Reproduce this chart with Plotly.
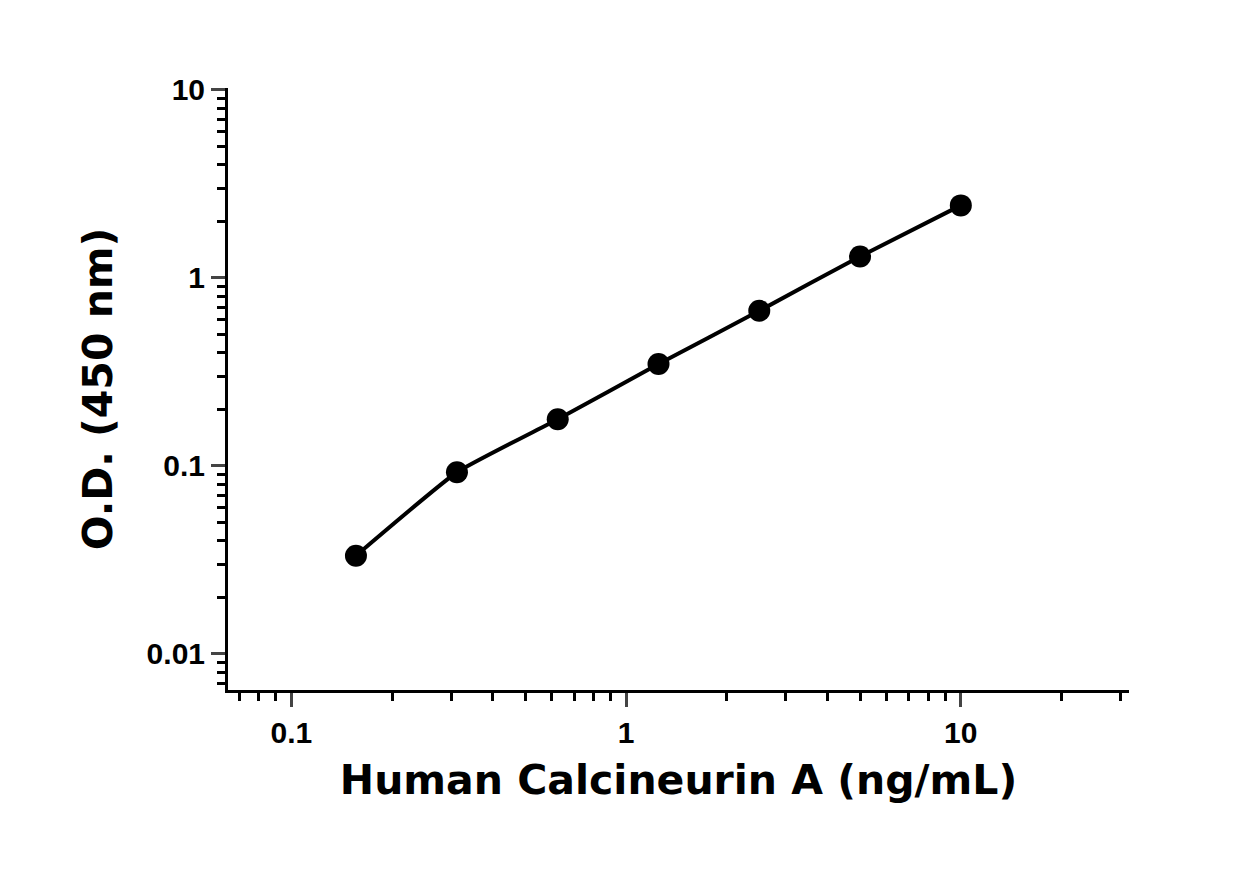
import numpy as np
import plotly.graph_objects as go

# standard curve data
conc = [0.156, 0.3125, 0.625, 1.25, 2.5, 5, 10]
od = [0.0333, 0.0925, 0.177, 0.348, 0.668, 1.30, 2.43]

x_ticks = [0.1, 1, 10]
x_labels = ['0.1', '1', '10']
y_ticks = [0.01, 0.1, 1, 10]
y_labels = ['0.01', '0.1', '1', '10']

x_minor = [m * 10.0 ** d for d in range(-2, 2) for m in range(2, 10)]
y_minor = [m * 10.0 ** d for d in range(-3, 1) for m in range(2, 10)]

fig = go.Figure()
fig.add_trace(go.Scatter(x=conc, y=od, mode='lines+markers',
                         line=dict(color='black', width=4, shape='spline', smoothing=0.4),
                         marker=dict(color='black', size=22), showlegend=False))

tick_font = dict(family='Liberation Sans Narrow, Liberation Sans, Arial', size=30, color='black', weight='bold')
title_font = dict(family='DejaVu Sans, Lato', size=41, color='black', weight='bold')

fig.update_layout(
    width=1251, height=870,
    margin=dict(l=220, r=130, t=80, b=188),
    plot_bgcolor='white', paper_bgcolor='white',
    xaxis=dict(type='log', range=[np.log10(0.0647), np.log10(31.8)],
               tickvals=x_ticks, ticktext=x_labels, tickfont=tick_font,
               ticks='outside', ticklen=14, tickwidth=3, showline=True, linewidth=3, linecolor='black',
               showgrid=False, zeroline=False,
               minor=dict(tickvals=x_minor, ticks='outside', ticklen=8, tickwidth=3, tickcolor='black', showgrid=False),
               title=dict(text='Human Calcineurin A (ng/mL)', font=title_font, standoff=18)),
    yaxis=dict(type='log', range=[-2.192, 1.01],
               tickvals=y_ticks, ticktext=y_labels, tickfont=tick_font,
               ticks='outside', ticklen=14, tickwidth=3, showline=True, linewidth=3, linecolor='black',
               showgrid=False, zeroline=False,
               minor=dict(tickvals=y_minor, ticks='outside', ticklen=8, tickwidth=3, tickcolor='black', showgrid=False),
               title=dict(text='O.D. (450 nm)', font=title_font, standoff=22)),
)

fig.write_html("out.html")
